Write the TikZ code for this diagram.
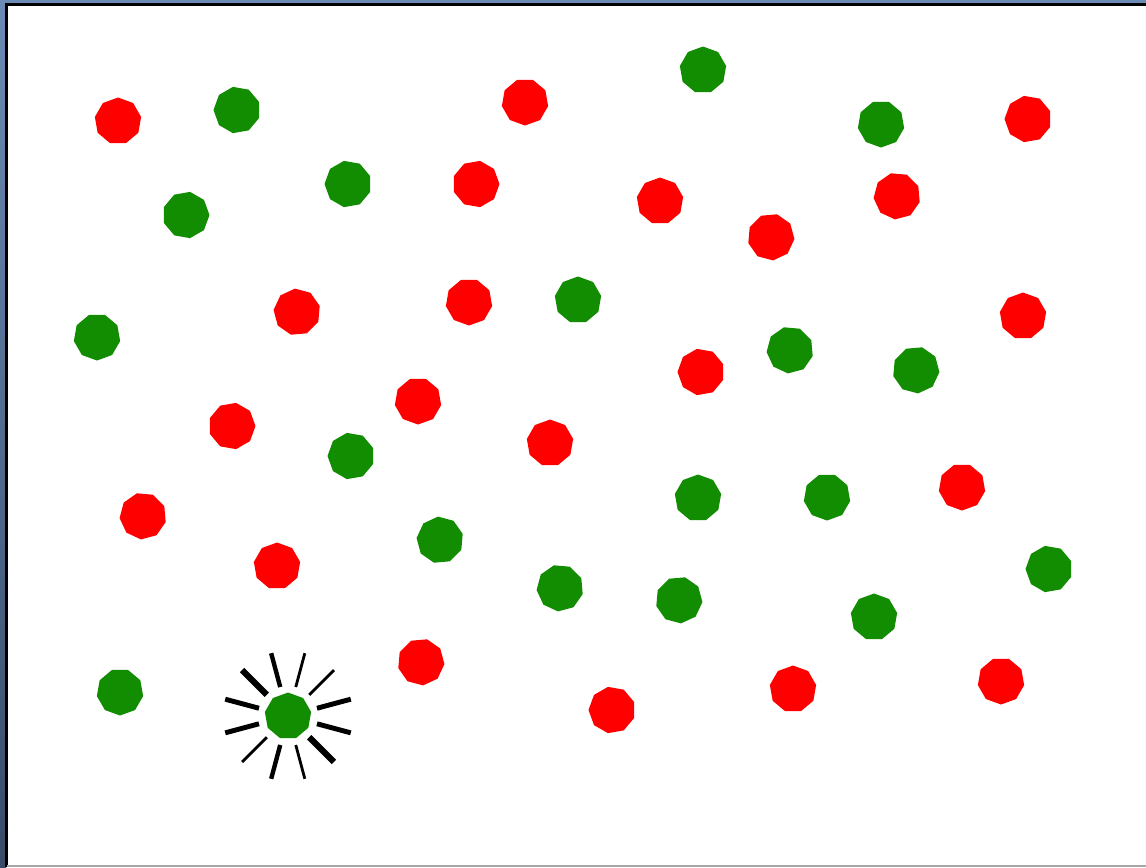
\documentclass[tikz,border=0pt]{standalone}
\usepackage{tikz}
\usetikzlibrary{shapes.geometric}
\definecolor{dotred}{RGB}{255,0,0}
\definecolor{dotgreen}{RGB}{18,140,0}
\definecolor{frameblue}{RGB}{108,139,180}
\definecolor{framedark}{RGB}{56,76,104}
\tikzset{
  dot/.style={regular polygon, regular polygon sides=9, minimum size=0.94cm,
    inner sep=0pt, draw=none},
  reddot/.style={dot, fill=dotred},
  greendot/.style={dot, fill=dotgreen},
  ray/.style={black, line cap=butt}
}

\begin{document}
\begin{tikzpicture}[x=0.02cm, y=0.02cm]
  \useasboundingbox (0,0) rectangle (1146,-867);
  % window frame
  \fill[white] (0,0) rectangle (1146,-867);
  \fill[frameblue] (0,0) rectangle (1146,-4);
  \shade[top color=frameblue, bottom color=framedark] (0,0) rectangle (6,-867);
  \draw[black, line width=1.4pt] (6.7,-867) -- (6.7,-4.7) -- (1146,-4.7);
  \draw[gray!70, line width=0.8pt] (7,-866) -- (1146,-866);
  % red dots
  \foreach \n/\x/\y/\r in {1/118/121/0, 2/525/102/20, 3/1028/119/10,
      4/476/184/30, 5/660/201/0, 6/897/196/15, 7/771/237/25,
      8/297/312/5, 9/469/302/20, 10/1023/316/0, 11/701/372/10,
      12/418/401/20, 13/232/426/30, 14/550/443/0, 15/143/516/15,
      16/962/487/20, 17/277/566/0, 18/421/662/25, 19/612/710/10,
      20/793/689/0, 21/1001/681/20}{
    \node[reddot, shape border rotate=\r] (r\n) at (\x,-\y) {};
  }
  % green dots
  \foreach \n/\x/\y/\r in {1/237/110/10, 2/703/70/0, 3/881/124/20,
      4/348/184/10, 5/186/215/30, 6/578/300/0, 7/97/337/20,
      8/790/350/15, 9/916/370/25, 10/351/456/10, 11/698/498/0,
      12/827/497/20, 13/440/540/5, 14/560/588/15, 15/679/600/25,
      16/874/617/0, 17/1049/569/10, 18/120/692/20, 19/288/716/0}{
    \node[greendot, shape border rotate=\r] (g\n) at (\x,-\y) {};
  }
  % burst round the last green dot
  \foreach \a/\w in {15/2.8, 45/1.6, 75/1.6, 105/2.5, 135/3.5, 165/2.8,
      -165/2.8, -135/1.6, -105/2.5, -75/1.6, -45/3.5, -15/2.8}{
    \draw[ray, line width=\w pt] (g19.center) ++(\a:30) -- ++(\a:35);
  }
\end{tikzpicture}
\end{document}
